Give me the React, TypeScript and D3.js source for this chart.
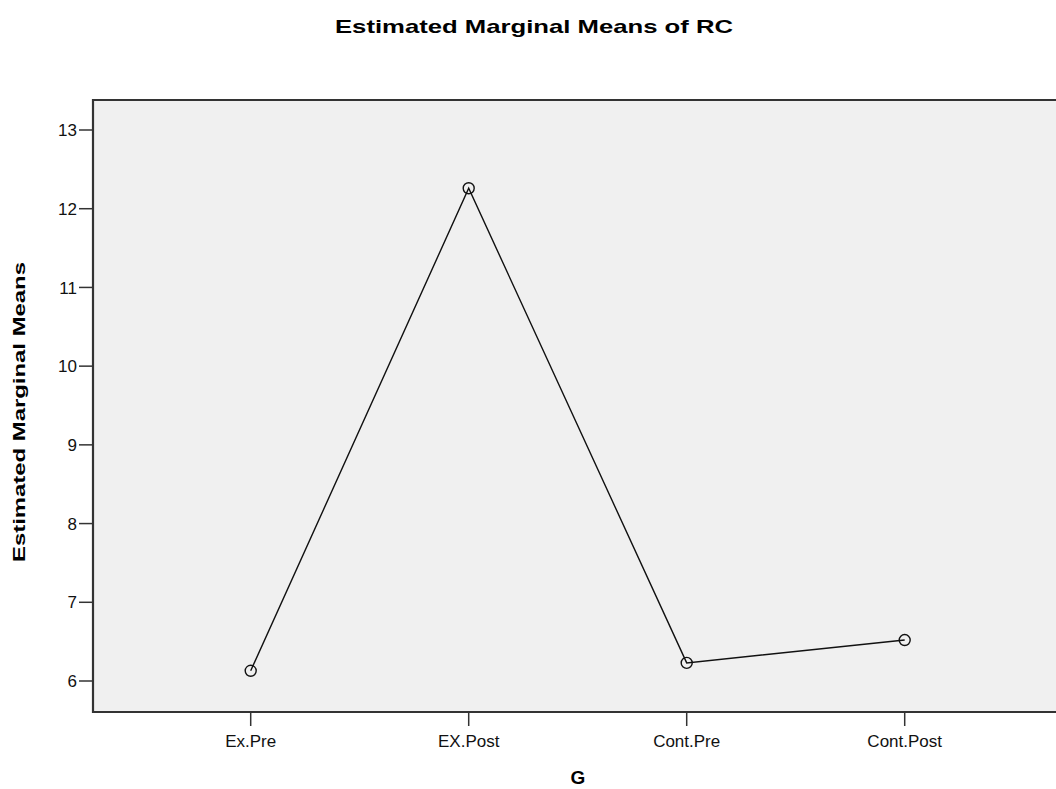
import React from "react";
import * as d3 from "d3";

const categories = ["Ex.Pre", "EX.Post", "Cont.Pre", "Cont.Post"];
const means = [6.13, 12.26, 6.23, 6.52];
const yTicks = [6, 7, 8, 9, 10, 11, 12, 13];
const title = "Estimated Marginal Means of RC";
const yLabel = "Estimated Marginal Means";
const xLabel = "G";

const W = 1056;
const H = 789;
const left = 93;
const top = 100;
const bottom = 712;
const right = 1062;

export default function App() {
  const x = d3.scalePoint<string>().domain(categories).range([250.7, 904.7]);
  const y = d3.scaleLinear().domain([6, 13]).range([681, 130]);
  const line = d3
    .line<number>()
    .x((_, i) => x(categories[i]) as number)
    .y((d) => y(d));
  const font = "Arial, 'Liberation Sans', sans-serif";
  return (
    <svg width={W} height={H} style={{ position: "absolute", left: 0, top: 0, background: "#fff" }}>
      <rect x={left} y={top} width={right - left + 20} height={bottom - top} fill="#f0f0f0" />
      <path d={`M${right + 20},${top}H${left}V${bottom}H${right + 20}`} fill="none" stroke="#333" strokeWidth={2.2} />
      {yTicks.map((t) => (
        <g key={t}>
          <line x1={left - 14} x2={left} y1={y(t)} y2={y(t)} stroke="#333" strokeWidth={1.5} />
          <text x={left - 16} y={y(t)} dy="0.36em" textAnchor="end" fontFamily={font} fontSize={17} fill="#111">
            {t}
          </text>
        </g>
      ))}
      {categories.map((c) => (
        <g key={c}>
          <line x1={x(c)} x2={x(c)} y1={bottom} y2={bottom + 14} stroke="#333" strokeWidth={1.5} />
          <text x={x(c)} y={bottom + 35} textAnchor="middle" fontFamily={font} fontSize={17} fill="#111">
            {c}
          </text>
        </g>
      ))}
      <path d={line(means) || ""} fill="none" stroke="#111" strokeWidth={1.4} />
      {means.map((m, i) => (
        <circle key={i} cx={x(categories[i])} cy={y(m)} r={5.5} fill="none" stroke="#111" strokeWidth={1.4} />
      ))}
      <text x={534} y={33} textAnchor="middle" fontFamily={font} fontWeight="bold" fontSize={19} textLength={398} lengthAdjust="spacingAndGlyphs" fill="#000">
        {title}
      </text>
      <text
        transform={`translate(25,${(top + bottom) / 2 + 6}) rotate(-90)`}
        textAnchor="middle"
        fontFamily={font}
        fontWeight="bold"
        fontSize={17}
        textLength={300}
        lengthAdjust="spacingAndGlyphs"
        fill="#000"
      >
        {yLabel}
      </text>
      <text x={578} y={784} textAnchor="middle" fontFamily={font} fontWeight="bold" fontSize={19} fill="#000">
        {xLabel}
      </text>
    </svg>
  );
}
